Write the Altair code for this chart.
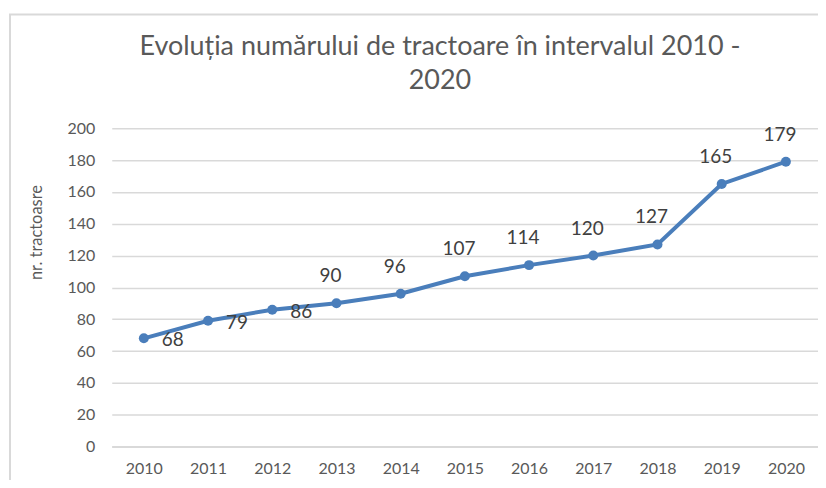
import altair as alt
import pandas as pd

years = ["2010", "2011", "2012", "2013", "2014", "2015", "2016", "2017", "2018", "2019", "2020"]
values = [68, 79, 86, 90, 96, 107, 114, 120, 127, 165, 179]
label_side = ["right", "right", "right", "above", "above", "above", "above", "above", "above", "above", "above"]
y_ticks = [0, 20, 40, 60, 80, 100, 120, 140, 160, 180, 200]
title_lines = ["Evoluția numărului de tractoare în intervalul 2010 -", "2020"]
y_title = "nr. tractoasre"

df = pd.DataFrame({"year": years, "value": values, "side": label_side})

FONT = "Lato"
LINE = "#4a7ebb"
GRID = "#d9d9d9"

x = alt.X("year:O", axis=alt.Axis(title=None, labelAngle=0, ticks=False, domainColor=GRID,
                                    domainWidth=2, labelFont=FONT, labelFontSize=16,
                                    labelColor="#595959", labelPadding=14))
y = alt.Y("value:Q", scale=alt.Scale(domain=[0, 200]),
          axis=alt.Axis(values=y_ticks, title=y_title, domain=False, ticks=False,
                        gridColor=GRID, gridWidth=1.5, labelFont=FONT, labelFontSize=16,
                        labelColor="#595959", labelPadding=17, titleFont=FONT,
                        titleFontSize=16.5, titleFontWeight="normal", titleColor="#595959",
                        titleX=-75, titleY=104, titleAlign="center", titleBaseline="middle",
                        titleAngle=270))

base = alt.Chart(df)

frame = alt.Chart(pd.DataFrame({"a": [0]})).mark_rect(
    fillOpacity=0, stroke=GRID, strokeWidth=2
).encode(x=alt.value(-102), x2=alt.value(900), y=alt.value(-114), y2=alt.value(700))

line = base.mark_line(color=LINE, strokeWidth=4).encode(x=x, y=y)
pts = base.mark_point(filled=True, color=LINE, size=100, opacity=1).encode(x=x, y=y)

txt_right = base.transform_filter(alt.datum.side == "right").mark_text(
    font=FONT, fontSize=19, color="#404040", align="center", baseline="middle", dx=29, dy=2
).encode(x=x, y=y, text="value:Q")
txt_above = base.transform_filter(alt.datum.side == "above").mark_text(
    font=FONT, fontSize=19, color="#404040", align="center", baseline="middle", dx=-6, dy=-27
).encode(x=x, y=y, text="value:Q")

chart = alt.layer(frame, line, pts, txt_right, txt_above).properties(
    width=708, height=319,
    autosize="none",
    padding={"left": 104, "top": 120, "right": 0, "bottom": 33},
    title=alt.TitleParams(text=title_lines, font=FONT, fontSize=27, fontWeight="normal",
                          color="#595959", anchor="middle", dx=-25, dy=86, lineHeight=34),
).configure_view(stroke=None)

chart.save("out.html", embed_options={"renderer": "svg", "actions": False})
